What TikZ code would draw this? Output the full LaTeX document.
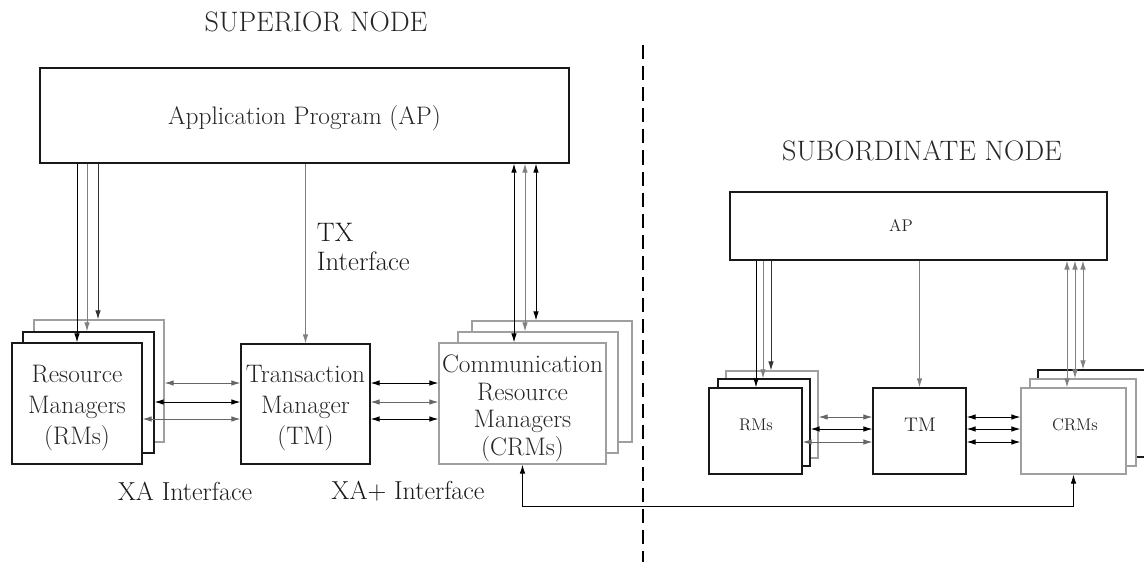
\documentclass[tikz,border=0pt]{standalone}
\usetikzlibrary{arrows.meta}
\newlength\px \setlength\px{0.025cm}
% \bx{name}{x1}{y1}{x2}{y2}{style}
\newcommand\bx[6]{\node[#6, minimum width={(#4-#2)*\px}, minimum height={(#5-#3)*\px}] (#1) at ({(#2+#4)/2},{(#3+#5)/2}) {};}
\begin{document}
\begin{tikzpicture}[x=0.025cm,y=-0.025cm,
  box/.style={draw=black!90, line width=0.8pt, fill=white, inner sep=0pt},
  gbox/.style={box, draw=gray!75},
  big/.style={font=\fontsize{18}{22}\selectfont, align=center, text=black!85},
  crmtxt/.style={font=\fontsize{18}{19.5}\selectfont, align=center, text=black!85},
  small/.style={font=\fontsize{12}{14}\selectfont, text=black!85},
  ttl/.style={font=\fontsize{20}{22}\selectfont, text=black!85},
  lbl/.style={font=\fontsize{18.5}{21}\selectfont, text=black!90},
  arr/.style={-{Latex[length=6.5pt,width=4pt]}, line width=0.7pt},
  dbl/.style={{Latex[length=6.5pt,width=4pt]}-{Latex[length=6.5pt,width=4pt]}, line width=0.7pt},
]
\useasboundingbox (0,0) rectangle (1144,562);

% divider
\draw[dash pattern=on 10pt off 5pt, line width=0.8pt] (643,45) -- (643,562);

% ---------------- superior node ----------------
\node[ttl] (tsup) at (316,22) {SUPERIOR NODE};
\bx{ap}{40}{68}{569}{163}{box}
\node[big, yshift=-2pt] (apt) at (ap.center) {Application Program (AP)};

\bx{rmb}{34}{320}{164}{442}{gbox}
\bx{rmm}{23}{332}{154}{453}{box}
\bx{rmf}{12}{343}{142}{464}{box}
\node[big, yshift=-3.5pt] (rmt) at (rmf.center) {Resource\\Managers\\(RMs)};

\bx{tm}{241}{344}{370}{464}{box}
\node[big, yshift=-3pt] (tmt) at (tm.center) {Transaction\\Manager\\(TM)};

\bx{crmb}{472}{321}{632}{442}{gbox}
\bx{crmm}{458}{332}{618}{453}{gbox}
\bx{crmf}{439}{343}{606}{464}{gbox}
\node[crmtxt, yshift=-3.5pt] (crmt) at (crmf.center) {Communication\\Resource\\Managers\\(CRMs)};

\coordinate (a1) at (77,0);  \coordinate (a2) at (87,0);  \coordinate (a3) at (98,0);
\coordinate (c1) at (514,0); \coordinate (c2) at (525,0); \coordinate (c3) at (536,0);
\coordinate (h1) at (0,383); \coordinate (h2) at (0,402); \coordinate (h3) at (0,419);

\draw[arr, black]   (ap.south -| a1) -- (rmf.north -| a1);
\draw[arr, gray]    (ap.south -| a2) -- (rmm.north -| a2);
\draw[arr, black!80](ap.south -| a3) -- (rmb.north -| a3);

\draw[arr, gray] (ap.south -| tm.north) -- (tm.north);
\node[lbl, font=\fontsize{19}{21}\selectfont, anchor=west, align=left] (tx) at (312,247) {TX\\Interface};

\draw[dbl, black]   (ap.south -| c1) -- (crmf.north -| c1);
\draw[dbl, gray]    (ap.south -| c2) -- (crmm.north -| c2);
\draw[dbl, black]   (ap.south -| c3) -- (crmb.north -| c3);

\draw[dbl, gray!80!black] (rmb.east |- h1) -- (tm.west |- h1);
\draw[dbl, black]         (rmm.east |- h2) -- (tm.west |- h2);
\draw[dbl, gray!80!black] (rmf.east |- h3) -- (tm.west |- h3);

\draw[dbl, black]         (tm.east |- h1) -- (crmf.west |- h1);
\draw[dbl, gray!80!black] (tm.east |- h2) -- (crmf.west |- h2);
\draw[dbl, black]         (tm.east |- h3) -- (crmf.west |- h3);

\node[lbl] (xa) at (185,491) {XA Interface};
\node[lbl] (xap) at (408,491) {XA+ Interface};

% ---------------- subordinate node ----------------
\node[ttl] (tsub) at (922,151) {SUBORDINATE NODE};
\bx{sap}{730}{192}{1107}{260}{box}
\node[small] (saptxt) at (901,225) {AP};

\bx{srmb}{726}{371}{818}{458}{gbox}
\bx{srmm}{718}{379}{810}{466}{box}
\bx{srmf}{709}{388}{802}{474}{box}
\node[small] (srmt) at (756,425) {RMs};

\bx{stm}{873}{388}{966}{474}{box}
\node[small, font=\fontsize{14}{16}\selectfont] (stmt) at (920,425) {TM};

\bx{scrmb}{1038}{370}{1170}{457}{box}
\bx{scrmm}{1030}{379}{1136}{466}{gbox}
\bx{scrmf}{1021}{388}{1126}{474}{gbox}
\node[small] (scrmt) at (1075,425) {CRMs};

\coordinate (s1) at (756,0);  \coordinate (s2) at (763,0);  \coordinate (s3) at (771,0);
\coordinate (d1) at (1067,0); \coordinate (d2) at (1075,0); \coordinate (d3) at (1083,0);
\coordinate (k1) at (0,417); \coordinate (k2) at (0,429); \coordinate (k3) at (0,442);

\draw[arr, black]   (sap.south -| s1) -- (srmf.north -| s1);
\draw[arr, gray]    (sap.south -| s2) -- (srmm.north -| s2);
\draw[arr, black!80](sap.south -| s3) -- (srmb.north -| s3);

\draw[arr, gray] (sap.south -| stm.north) -- (stm.north);

\draw[dbl, gray]    (sap.south -| d1) -- (scrmf.north -| d1);
\draw[dbl, gray]    (sap.south -| d2) -- (scrmm.north -| d2);
\draw[dbl, gray]    (sap.south -| d3) -- (scrmb.north -| d3);

\draw[dbl, gray!80!black] (srmb.east |- k1) -- (stm.west |- k1);
\draw[dbl, black]         (srmm.east |- k2) -- (stm.west |- k2);
\draw[dbl, gray!80!black] (srmf.east |- k3) -- (stm.west |- k3);

\draw[dbl, black] (stm.east |- k1) -- (scrmf.west |- k1);
\draw[dbl, black] (stm.east |- k2) -- (scrmf.west |- k2);
\draw[dbl, black] (stm.east |- k3) -- (scrmf.west |- k3);

% link between nodes
\coordinate (lk) at (0,506);
\draw[dbl, black] (crmf.south) -- (crmf.south |- lk) -| (scrmf.south);
\end{tikzpicture}
\end{document}
